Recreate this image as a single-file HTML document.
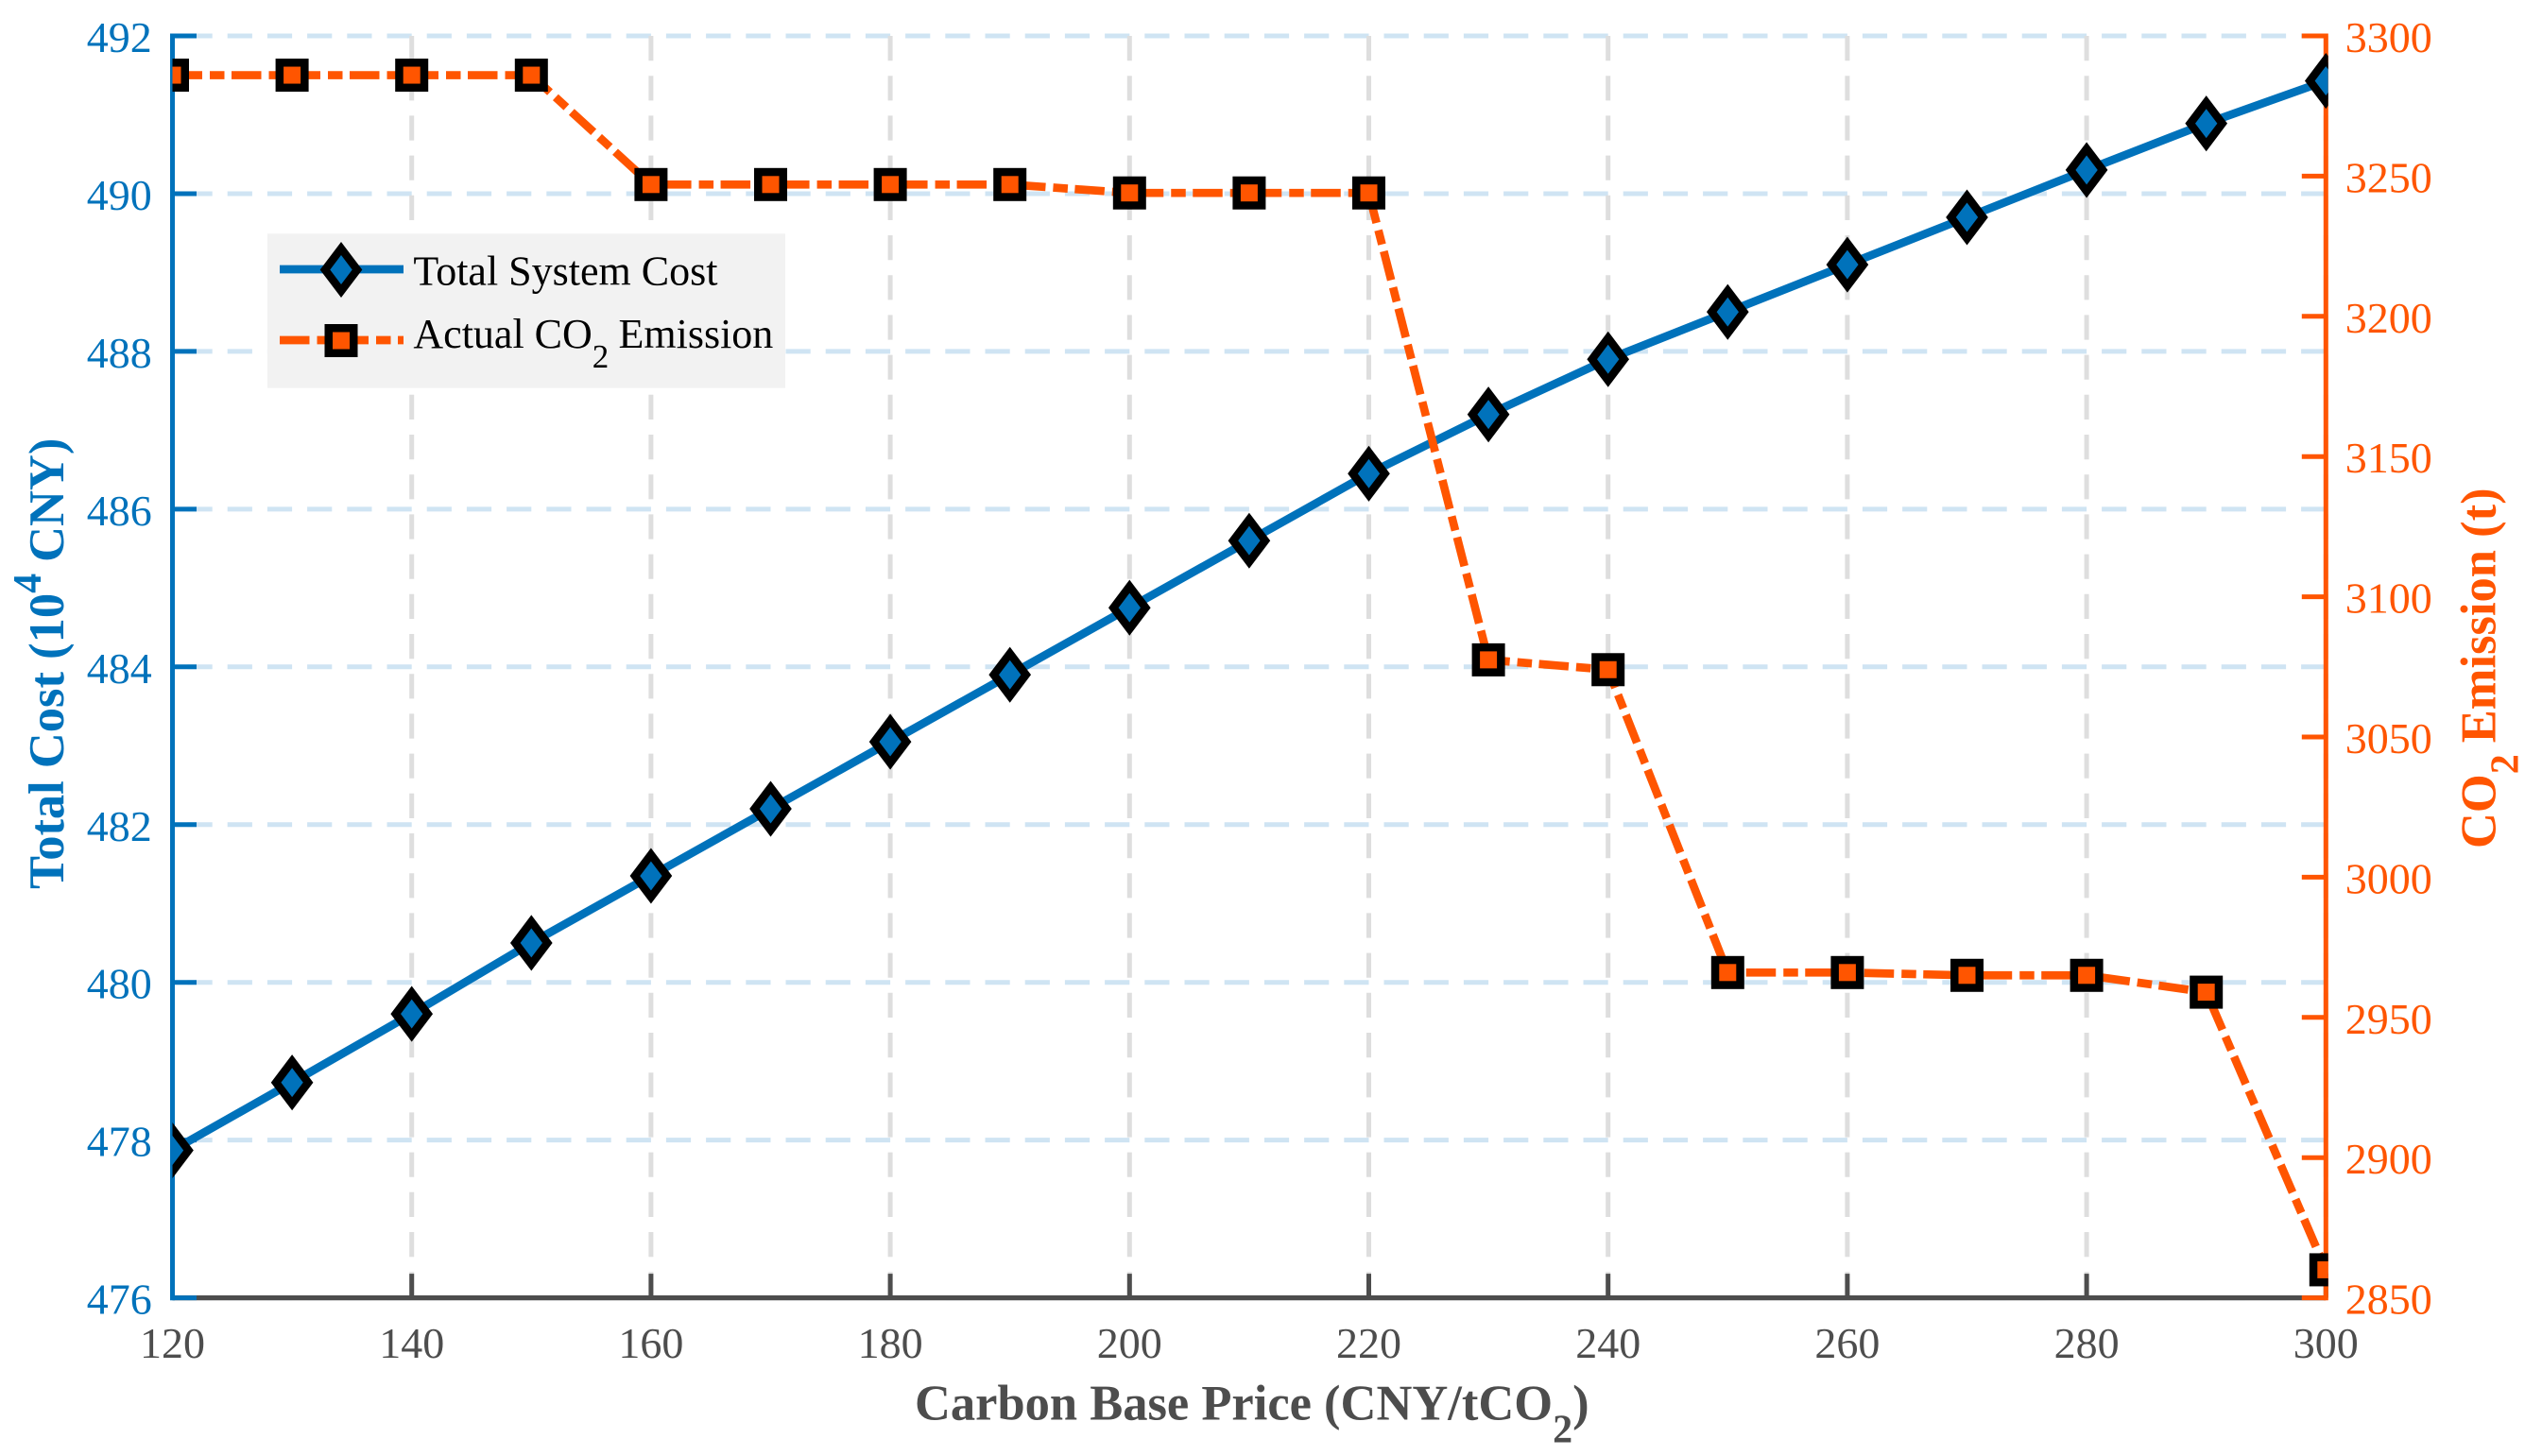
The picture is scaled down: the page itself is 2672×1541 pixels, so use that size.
<!DOCTYPE html>
<html lang="en">
<head>
<meta charset="utf-8">
<title>Total System Cost and CO2 Emission vs Carbon Base Price</title>
<style>
  html, body { margin: 0; padding: 0; background: #fff; }
  svg { display: block; }
  text { font-family: "Liberation Serif", "Times New Roman", serif; }
</style>
</head>
<body>
<svg id="chart" xmlns="http://www.w3.org/2000/svg" width="2672" height="1541" viewBox="0 0 2672 1541">
  <defs>
    <clipPath id="plot-clip"><rect x="182.5" y="0" width="2281.2" height="1541"/></clipPath>
  </defs>
  <rect x="0" y="0" width="2672" height="1541" fill="#ffffff"/>
  <g id="grid"></g>
  <g id="axes"></g>
  <g id="series" clip-path="url(#plot-clip)"></g>
  <g id="labels" font-size="46"></g>

  <text x="968" y="1502.7" font-size="52.5" font-weight="bold" fill="#4d4d4d">Carbon Base Price (CNY/tCO<tspan font-size="42" dy="24">2</tspan><tspan dy="-24">)</tspan></text>

  <text transform="translate(67 941) rotate(-90)" x="0" y="0" font-size="52.5" font-weight="bold" fill="#0072bb">Total Cost (10<tspan font-size="42" dy="-24">4</tspan><tspan dy="24" dx="12">CNY)</tspan></text>

  <text transform="translate(2640.7 898) rotate(-90)" x="0" y="0" font-size="52.5" font-weight="bold" fill="#ff5500">CO<tspan font-size="42" dy="24">2</tspan><tspan dy="-24" dx="12">Emission (t)</tspan></text>

  <g id="legend">
    <rect x="283" y="247.3" width="548" height="163.4" fill="#f2f2f2"/>
    <text x="437.4" y="301.5" font-size="44" fill="#000000">Total System Cost</text>
    <text x="437.4" y="368" font-size="44" fill="#000000">Actual CO<tspan font-size="35" dy="21">2</tspan><tspan dy="-21" x="654.5">Emission</tspan></text>
  </g>
</svg>
<script>
// ---- chart data ----
const carbonPrice = [120, 130, 140, 150, 160, 170, 180, 190, 200, 210, 220, 230, 240, 250, 260, 270, 280, 290, 300];
const totalCost = [477.87, 478.73, 479.6, 480.5, 481.35, 482.2, 483.05, 483.9, 484.75, 485.6, 486.45, 487.2, 487.9, 488.5, 489.1, 489.7, 490.3, 490.89, 491.43];
const co2Emission = [3286, 3286, 3286, 3286, 3247, 3247, 3247, 3247, 3244, 3244, 3244, 3077.5, 3074, 2966, 2966, 2965, 2965, 2959, 2860];
const xTicks = [120, 140, 160, 180, 200, 220, 240, 260, 280, 300];
const leftTicks = [476, 478, 480, 482, 484, 486, 488, 490, 492];
const rightTicks = [2850, 2900, 2950, 3000, 3050, 3100, 3150, 3200, 3250, 3300];
const xDomain = [120, 300];
const leftDomain = [476, 492];
const rightDomain = [2850, 3300];

// ---- layout ----
const PLOT_L = 182.5, PLOT_R = 2461.3, PLOT_T = 38, PLOT_B = 1373.6;
const BLUE = '#0072bb', ORANGE = '#ff5500', DARK = '#4d4d4d';
const DASH_DOT = '31.5 8 15.5 7.5';
const NS = 'http://www.w3.org/2000/svg';

function xPos(v) { return PLOT_L + (v - xDomain[0]) / (xDomain[1] - xDomain[0]) * (PLOT_R - PLOT_L); }
function yLeft(v) { return PLOT_B - (v - leftDomain[0]) / (leftDomain[1] - leftDomain[0]) * (PLOT_B - PLOT_T); }
function yRight(v) { return PLOT_B - (v - rightDomain[0]) / (rightDomain[1] - rightDomain[0]) * (PLOT_B - PLOT_T); }

function make(tag, attrs, parent) {
  const el = document.createElementNS(NS, tag);
  for (const k in attrs) el.setAttribute(k, attrs[k]);
  parent.appendChild(el);
  return el;
}

const gridG = document.getElementById('grid');
const axesG = document.getElementById('axes');
const seriesG = document.getElementById('series');
const labelsG = document.getElementById('labels');
const legendG = document.getElementById('legend');

// ---- grid ----
leftTicks.forEach(function (t) {
  const el = make('line', { x1: PLOT_R, x2: PLOT_L, y1: yLeft(t), y2: yLeft(t), stroke: '#cfe4f3', 'stroke-width': 5, 'stroke-dasharray': '26.2 16' }, gridG);
  
  
});
xTicks.forEach(function (t) {
  const el = make('line', { x1: xPos(t), x2: xPos(t), y1: PLOT_T, y2: PLOT_B, stroke: '#dedede', 'stroke-width': 5, 'stroke-dasharray': '26.2 16' }, gridG);
  
  
});

// ---- axes ----
const xAxisLine = make('line', { x1: PLOT_L, x2: PLOT_R, y1: PLOT_B, y2: PLOT_B, stroke: DARK, 'stroke-width': 5.2 }, axesG);



xTicks.forEach(function (t) {
  const tick = make('line', { x1: xPos(t), x2: xPos(t), y1: PLOT_B, y2: PLOT_B - 25.5, stroke: DARK, 'stroke-width': 5 }, axesG);
  
  
  const label = make('text', { x: xPos(t), y: 1437, 'text-anchor': 'middle', fill: DARK }, labelsG);
  label.textContent = String(t);
  
  
});

leftTicks.forEach(function (t) {
  const tick = make('line', { x1: PLOT_L, x2: PLOT_L + 25.5, y1: yLeft(t), y2: yLeft(t), stroke: BLUE, 'stroke-width': 5 }, axesG);
  
  
  const label = make('text', { x: 160.7, y: yLeft(t) + 17, 'text-anchor': 'end', fill: BLUE }, labelsG);
  label.textContent = String(t);
  
  
});

rightTicks.forEach(function (t) {
  const tick = make('line', { x1: PLOT_R, x2: PLOT_R - 25.5, y1: yRight(t), y2: yRight(t), stroke: ORANGE, 'stroke-width': 5 }, axesG);
  
  
  const label = make('text', { x: 2481.7, y: yRight(t) + 17, 'text-anchor': 'start', fill: ORANGE }, labelsG);
  label.textContent = String(t);
  
  
});

const leftAxisLine = make('line', { x1: PLOT_L, x2: PLOT_L, y1: PLOT_T - 2.5, y2: PLOT_B + 2.6, stroke: BLUE, 'stroke-width': 5 }, axesG);



const rightAxisLine = make('line', { x1: PLOT_R, x2: PLOT_R, y1: PLOT_T - 2.5, y2: PLOT_B + 2.6, stroke: ORANGE, 'stroke-width': 5 }, axesG);



// ---- marks ----
function diamondPath(cx, cy) {
  const a = 17, b = 22.5;
  return 'M' + cx + ' ' + (cy - b) + 'L' + (cx + a) + ' ' + cy + 'L' + cx + ' ' + (cy + b) + 'L' + (cx - a) + ' ' + cy + 'Z';
}
function diamond(cx, cy, parent) {
  return make('path', { d: diamondPath(cx, cy), fill: BLUE, stroke: '#000', 'stroke-width': 8.5, 'stroke-miterlimit': 10 }, parent);
}
function square(cx, cy, parent) {
  return make('rect', { x: cx - 13.25, y: cy - 13.25, width: 26.5, height: 26.5, fill: ORANGE, stroke: '#000', 'stroke-width': 8.5 }, parent);
}

const costPoints = carbonPrice.map(function (p, i) { return xPos(p) + ',' + yLeft(totalCost[i]); }).join(' ');
const costLine = make('polyline', { points: costPoints, fill: 'none', stroke: BLUE, 'stroke-width': 8.7, 'stroke-linejoin': 'round' }, seriesG);



const co2Points = carbonPrice.map(function (p, i) { return xPos(p) + ',' + yRight(co2Emission[i]); }).join(' ');
const co2Line = make('polyline', { points: co2Points, fill: 'none', stroke: ORANGE, 'stroke-width': 8.7, 'stroke-dasharray': DASH_DOT }, seriesG);



carbonPrice.forEach(function (p, i) {
  const m = diamond(xPos(p), yLeft(totalCost[i]), seriesG);
  
  
});
carbonPrice.forEach(function (p, i) {
  const m = square(xPos(p), yRight(co2Emission[i]), seriesG);
  
  
});

// ---- legend keys ----
const legendLine1 = make('line', { x1: 296, x2: 427, y1: 285, y2: 285, stroke: BLUE, 'stroke-width': 8.7 }, legendG);


const legendMarker1 = diamond(361, 285.5, legendG);



const legendLine2 = make('line', { x1: 296, x2: 427, y1: 360, y2: 360, stroke: ORANGE, 'stroke-width': 8.7, 'stroke-dasharray': DASH_DOT }, legendG);


const legendMarker2 = square(361, 360.5, legendG);


</script>
</body>
</html>
